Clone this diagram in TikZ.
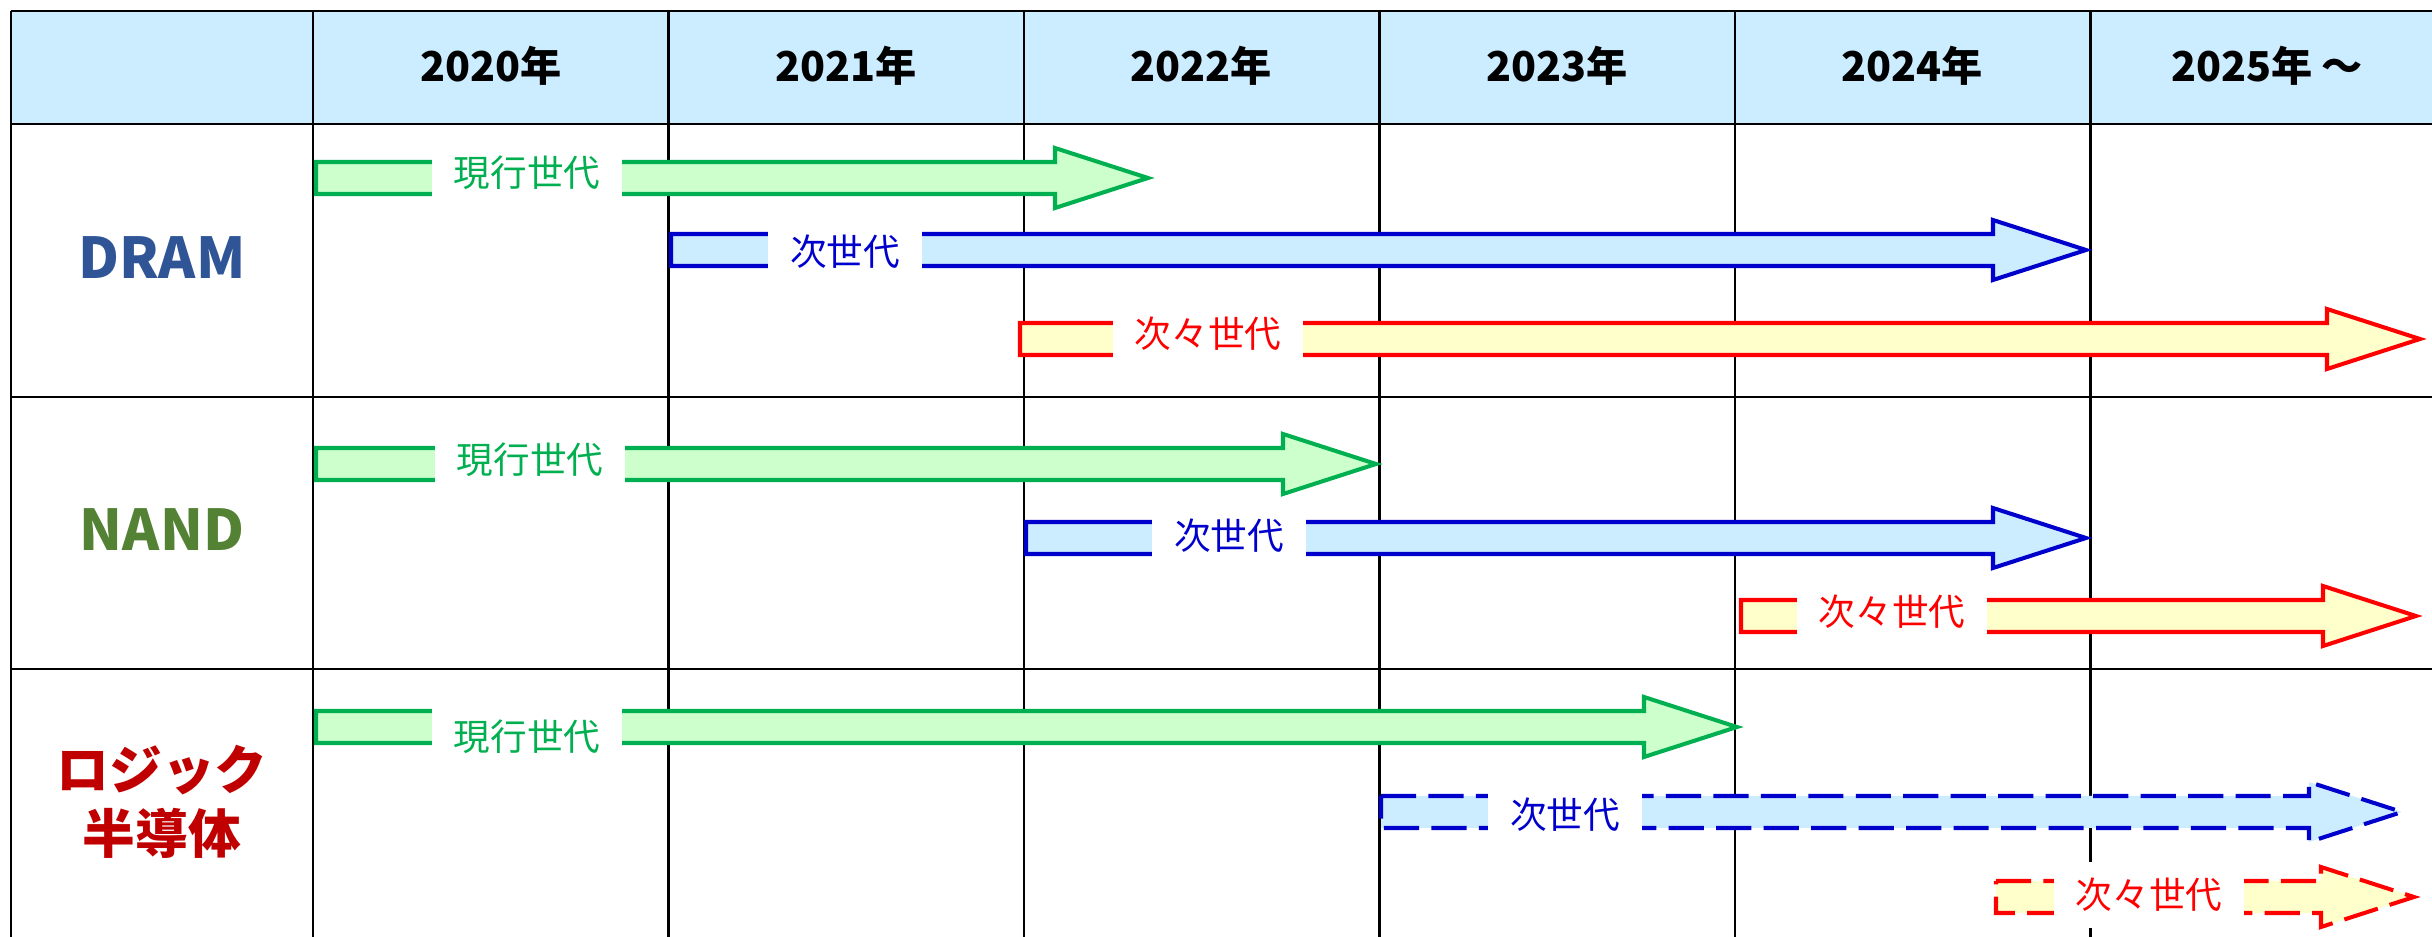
\documentclass[tikz,border=0pt]{standalone}
\usepackage{fontspec}
\setmainfont{Noto Sans CJK JP}
\usepackage{tikz}

\definecolor{headblue}{HTML}{CCECFF}
\definecolor{nowgreen}{HTML}{00B050}
\definecolor{nowfill}{HTML}{CCFFCC}
\definecolor{nextblue}{HTML}{0000CC}
\definecolor{afterred}{HTML}{FF0000}
\definecolor{afterfill}{HTML}{FFFFCC}
\definecolor{dramblue}{HTML}{2F5597}
\definecolor{nandgreen}{HTML}{548235}
\definecolor{logicred}{HTML}{C00000}

% style, start x, tip x, centre y
\newcommand{\genarrow}[4]{%
  \draw[#1] (#2,#4-16) -- (#3-93,#4-16) -- (#3-93,#4-30) -- (#3,#4)
    -- (#3-93,#4+30) -- (#3-93,#4+16) -- (#2,#4+16) -- cycle;}

\begin{document}
\begin{tikzpicture}[x=0.01cm, y=-0.01cm,
    grid/.style={line width=0.6pt},
    year/.style={font=\bfseries\fontsize{11.7}{14}\selectfont},
    kind/.style={font=\bfseries\fontsize{16}{19}\selectfont, align=center},
    genlabel/.style={fill=white, inner xsep=0.22cm, inner ysep=0pt,
      minimum height=0.65cm, font=\fontsize{10.4}{12}\selectfont},
    nowgen/.style={draw=nowgreen, fill=nowfill, line width=1.15pt},
    nextgen/.style={draw=nextblue, fill=headblue, line width=1.15pt},
    aftergen/.style={draw=afterred, fill=afterfill, line width=1.15pt},
    plan/.style={dash pattern=on 10pt off 3.5pt}]
    \useasboundingbox (0, 0) rectangle (2432, 937);
    \clip (0, 0) rectangle (2432, 937);

    % table
    \fill[headblue] (11, 11) rectangle (2432, 124);
    \draw[grid] (11, 11) -- (2432, 11);
    \draw[grid] (11, 124) -- (2432, 124);
    \draw[grid] (11, 397) -- (2432, 397);
    \draw[grid] (11, 669) -- (2432, 669);
    \draw[grid] (11, 11) -- (11, 937);
    \draw[grid] (313, 11) -- (313, 937);
    \draw[grid] (668.5, 11) -- (668.5, 937);
    \draw[grid] (1024, 11) -- (1024, 937);
    \draw[grid] (1379.5, 11) -- (1379.5, 937);
    \draw[grid] (1735, 11) -- (1735, 937);
    \draw[grid] (2090.5, 11) -- (2090.5, 937);

    \node[year] (y2020) at (491, 66) {2020年};
    \node[year] (y2021) at (846, 66) {2021年};
    \node[year] (y2022) at (1201, 66) {2022年};
    \node[year] (y2023) at (1557, 66) {2023年};
    \node[year] (y2024) at (1912, 66) {2024年};
    \node[year] (y2025) at (2267, 66) {2025年 ～};

    \node[kind, text=dramblue] (dram) at (162, 258) {DRAM};
    \node[kind, text=nandgreen] (nand) at (162, 530) {NAND};
    \node[kind, text=logicred, font=\bfseries\fontsize{15}{18.2}\selectfont] (logic) at (162, 802) {ロジック\\半導体};

    % generations
    \genarrow{nowgen}{316}{1148}{178}
    \genarrow{nextgen}{671}{2086}{250}
    \genarrow{aftergen}{1020}{2420}{339}
    \genarrow{nowgen}{316}{1376}{464}
    \genarrow{nextgen}{1026}{2086}{538}
    \genarrow{aftergen}{1741}{2416}{616}
    \genarrow{nowgen}{316}{1737}{727}
    \genarrow{nextgen, plan}{1381}{2402}{812}
    \genarrow{aftergen, plan}{1996}{2414}{897}

    \node[genlabel, text=nowgreen] (dram-now) at (527, 173) {現行世代};
    \node[genlabel, text=nextblue] (dram-next) at (845, 252) {次世代};
    \node[genlabel, text=afterred] (dram-after) at (1208, 334) {次々世代};
    \node[genlabel, text=nowgreen] (nand-now) at (530, 460) {現行世代};
    \node[genlabel, text=nextblue] (nand-next) at (1229, 536) {次世代};
    \node[genlabel, text=afterred] (nand-after) at (1892, 612) {次々世代};
    \node[genlabel, text=nowgreen] (logic-now) at (527, 737) {現行世代};
    \node[genlabel, text=nextblue] (logic-next) at (1565, 815) {次世代};
    \node[genlabel, text=afterred] (logic-after) at (2149, 895) {次々世代};
\end{tikzpicture}
\end{document}
